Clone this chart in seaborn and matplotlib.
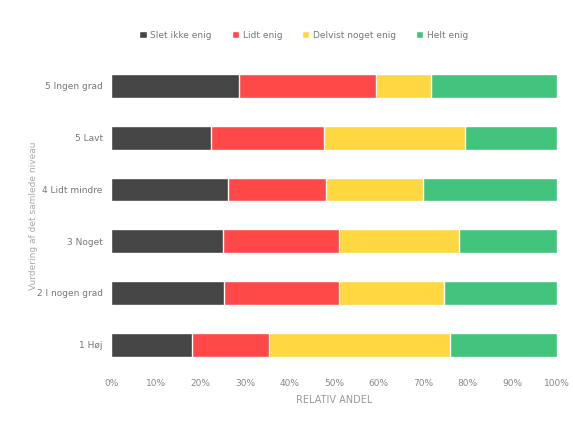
import pandas as pd
import numpy as np
import matplotlib as mpl
mpl.use('Agg')
import matplotlib.pyplot as plt
import seaborn as sns

rows = ['5 Ingen grad', '5 Lavt', '4 Lidt mindre', '3 Noget', '2 I nogen grad', '1 Høj']
series = ['Slet ikke enig', 'Lidt enig', 'Delvist noget enig', 'Helt enig']
helt_uenig = [28.6, 22.4, 26.3, 25.0, 25.4, 18.1]
lidt_enig = [30.7, 25.4, 21.8, 26.0, 25.6, 17.2]
delvist = [12.5, 31.5, 21.9, 27.0, 23.7, 40.8]
helt_enig = [28.2, 20.7, 30.0, 22.0, 25.3, 23.9]
colors = ['#454545', '#ff4848', '#ffd740', '#42c47c']

df = pd.DataFrame({'row': rows, series[0]: helt_uenig, series[1]: lidt_enig,
                   series[2]: delvist, series[3]: helt_enig})
cum = df[series].cumsum(axis=1)

sns.set_style('white')
fig = plt.figure(figsize=(5.73, 4.23), dpi=100)
ax = fig.add_axes([0.194, 0.124, 0.778, 0.734])

# stacked bars: draw cumulative totals from largest to smallest
for s, c in reversed(list(zip(series, colors))):
    sns.barplot(x=cum[s], y=df['row'], order=rows, color=c, width=0.46,
                saturation=1, ax=ax, label=s, orient='h')

ax.set_xlim(0, 100)
ax.set_xticks(np.arange(0, 101, 10))
ax.set_xticklabels([f'{v}%' for v in range(0, 101, 10)], fontsize=6.5, color='#888888')
ax.tick_params(axis='y', labelsize=6.5, colors='#777777', length=0, pad=6)
ax.tick_params(axis='x', length=0, pad=6)
ax.set_xlabel('RELATIV ANDEL', fontsize=7, color='#999999', labelpad=5)
ax.set_ylabel('Vurdering af det samlede niveau', fontsize=6.5, color='#aaaaaa')
ax.yaxis.set_label_coords(-0.164, 0.5)
sns.despine(ax=ax, left=True, bottom=True)

handles, labels = ax.get_legend_handles_labels()
order = [labels.index(s) for s in series]
fig.legend([handles[i] for i in order], series, loc='center', bbox_to_anchor=(0.53, 0.917),
           ncol=4, frameon=False, fontsize=6.5, labelcolor='#777777',
           handlelength=0.8, handleheight=0.8, handletextpad=0.4, columnspacing=2.2)
if ax.get_legend():
    ax.get_legend().remove()

fig.savefig('out.png', dpi=100)
